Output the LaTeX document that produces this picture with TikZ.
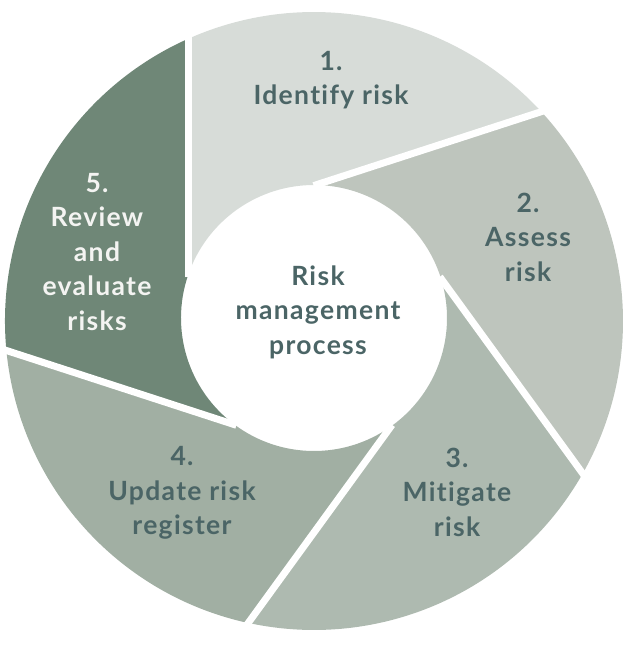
\documentclass[tikz,border=0pt]{standalone}
\usepackage{fontspec}
\setmainfont{Lato}[LetterSpace=5,Ligatures=NoCommon]
\definecolor{bladeA}{HTML}{D7DCD8}
\definecolor{bladeB}{HTML}{BEC5BD}
\definecolor{bladeC}{HTML}{AEBAB0}
\definecolor{bladeD}{HTML}{A1AFA3}
\definecolor{bladeE}{HTML}{6F8777}
\definecolor{txt}{HTML}{4B6566}
\definecolor{txtlight}{HTML}{F4F4F2}
\begin{document}
\begin{tikzpicture}[x=1pt,y=1pt,
  gap/.style={draw=white,line width=7pt,shorten >=-12pt,shorten <=-2pt},
  lbl/.style={align=center,text=txt,font=\fontsize{26.5}{34.5}\selectfont\bfseries,inner sep=0pt},
  lbllight/.style={lbl,text=txtlight}]
\useasboundingbox (0,0) rectangle (631,648);
% outer ends of the five separating lines
\coordinate (PA) at (188,609.1);
\coordinate (PB) at (541.3,536.3);
\coordinate (PC) at (582.7,174.5);
\coordinate (PD) at (248.2,25.0);
\coordinate (PE) at (6.4,297.5);
% inner ends (on the inner circle)
\coordinate (QA) at (188,372.6);
\coordinate (QB) at (315.58,462.99);
\coordinate (QC) at (440.98,369.6);
\coordinate (QD) at (390.9,221.48);
\coordinate (QE) at (234.54,223.33);
% blades
\fill[bladeA] (PA) arc[start angle=114.07,end angle=42.64,radius=309pt] -- (QB)
  arc[start angle=89.32,end angle=161.32,radius=133pt] -- cycle;
\fill[bladeB] (PB) arc[start angle=42.64,end angle=-29.58,radius=309pt] -- (QC)
  arc[start angle=17.32,end angle=89.32,radius=133pt] -- cycle;
\fill[bladeC] (PC) arc[start angle=-29.58,end angle=-102.29,radius=309pt] -- (QD)
  arc[start angle=-54.68,end angle=17.32,radius=133pt] -- cycle;
\fill[bladeD] (PD) arc[start angle=-102.29,end angle=-174.52,radius=309pt] -- (QE)
  arc[start angle=-126.68,end angle=-54.68,radius=133pt] -- cycle;
\fill[bladeE] (PE) arc[start angle=-174.52,end angle=-245.93,radius=309pt] -- (QA)
  arc[start angle=-198.68,end angle=-126.68,radius=133pt] -- cycle;
% gaps
\draw[gap] (QA) -- (PA);
\draw[gap] (QB) -- (PB);
\draw[gap] (QC) -- (PC);
\draw[gap] (QD) -- (PD);
\draw[gap] (QE) -- (PE);
% labels
\node[lbl] (t1) at (331,568) {1.\\Identify risk};
\node[lbl] (t2) at (528,411) {2.\\Assess\\risk};
\node[lbl] (t3) at (457,156) {3.\\Mitigate\\risk};
\node[lbl] (t4) at (182,155) {4.\\Update risk\\register};
\node[lbllight] (t5) at (97,396) {5.\\Review\\and\\evaluate\\risks};
\node[lbl] (tc) at (318,336) {Risk\\management\\process};
\end{tikzpicture}
\end{document}
